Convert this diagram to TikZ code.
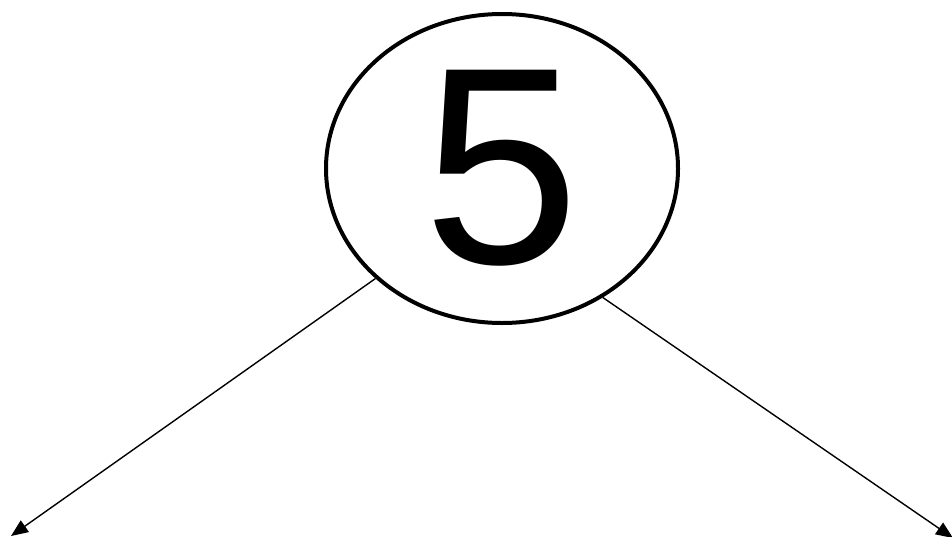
\documentclass[tikz,border=0pt]{standalone}
\usepackage{fontspec}
\setmainfont{Liberation Sans}
\usetikzlibrary{shapes.geometric,arrows.meta}
\begin{document}
\begin{tikzpicture}[x=1pt,y=-1pt,
  bubble/.style={draw=black, ellipse, line width=4pt, inner sep=0pt,
    minimum width=352pt, minimum height=309pt,
    font=\fontsize{281}{281}\selectfont},
  link/.style={draw=black, line width=1.4pt, -{Triangle[length=17pt,width=14pt]}}]
\useasboundingbox (0,0) rectangle (952,536);
\node[bubble] (e) at (502,168.5) {5};
\coordinate (l) at (11,536);
\coordinate (r) at (953,538);
\draw[link] (e.221.8) -- (l);
\draw[link] (e.308.4) -- (r);
\end{tikzpicture}
\end{document}
